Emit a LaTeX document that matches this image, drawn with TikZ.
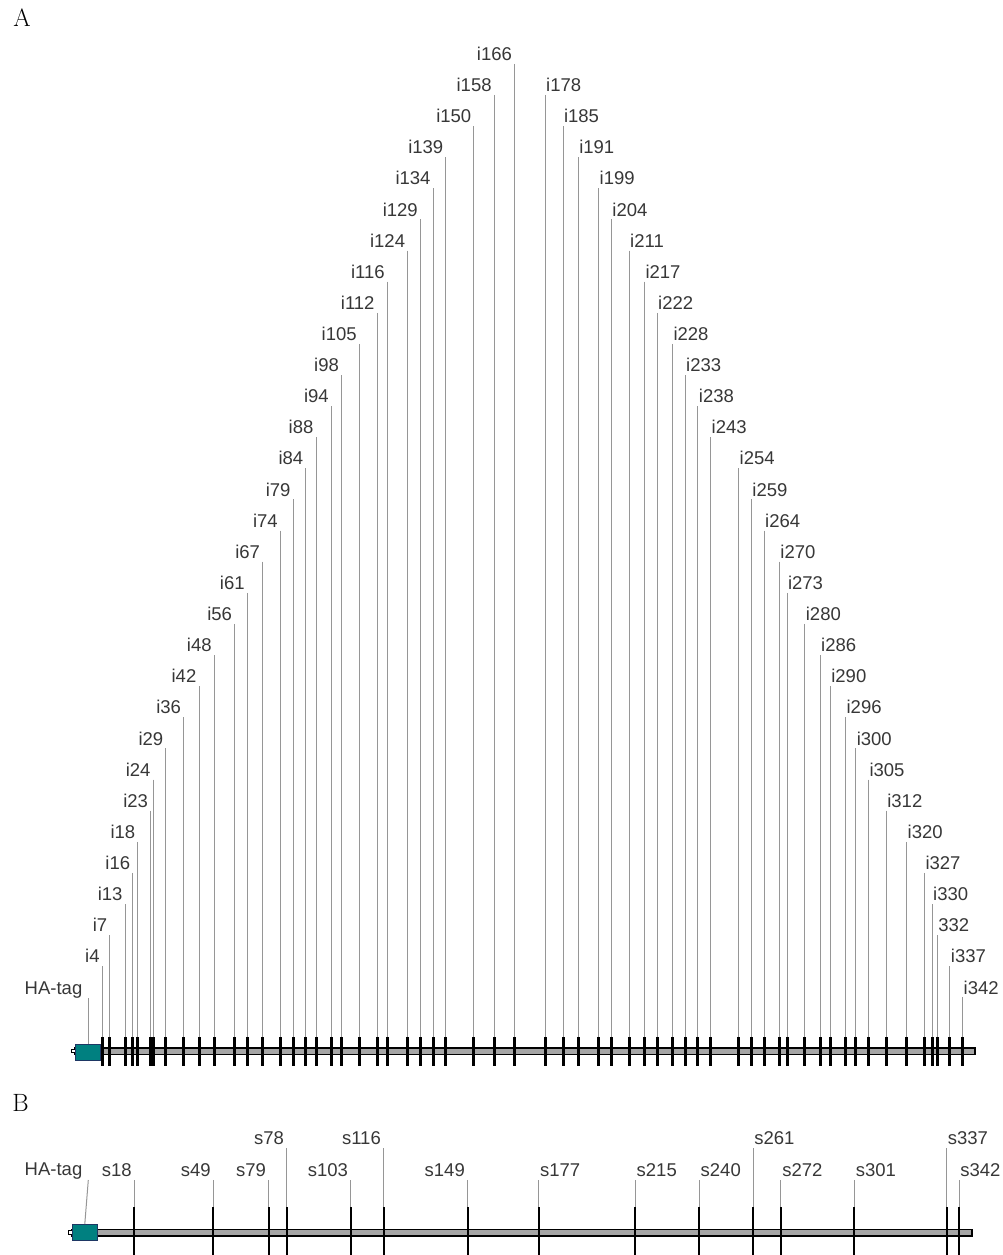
\documentclass[tikz,border=0pt]{standalone}
\usepackage{fontspec}
\newfontfamily\arialf{Liberation Sans}
\definecolor{hateal}{RGB}{0,128,128}
\definecolor{haedge}{RGB}{30,55,100}
\definecolor{leadc}{RGB}{150,150,150}
\definecolor{barc}{RGB}{165,165,165}
\definecolor{labelc}{RGB}{55,55,55}
\begin{document}
\begin{tikzpicture}[x=1pt,y=-1pt,
  lbl/.style={font=\arialf\fontsize{18.5}{18.5}\selectfont, text=labelc, inner sep=0pt},
  lead/.style={draw=leadc, line width=1pt},
  tickA/.style={draw=black, line width=3pt},
  tickB/.style={draw=black, line width=2pt},
  bar/.style={draw=black, fill=barc, line width=1.6pt},
  habox/.style={draw=haedge, fill=hateal, line width=1pt, minimum width=25pt, minimum height=16pt, inner sep=0pt},
  stub/.style={draw=black, fill=white, line width=1pt},
  panel/.style={font=\fontsize{25}{25}\selectfont, inner sep=0pt}]
\useasboundingbox (0,0) rectangle (1003,1255);

% panel letters
\node[panel] (pA) at (22,18) {A};
\node[panel] (pB) at (20.5,1103) {B};

% ---------------- Panel A ----------------
\draw[bar] (75,1047.7) rectangle (975,1054.3);
\draw[stub] (71,1049.2) rectangle (75,1052.8);
\node[habox] (haA) at (87.5,1052) {};
\node[lbl, anchor=base east] (haLA) at (82.5,994.1) {HA-tag};
\coordinate (haTA) at (88.3,998);
\draw[lead] (haTA) -- (haTA |- haA.north);

% left-hand labels
\foreach \n/\k in {166/0,158/1,150/2,139/3,134/4,129/5,124/6,116/7,112/8,105/9,98/10,94/11,88/12,84/13,79/14,74/15,67/16,61/17,56/18,48/19,42/20,36/21,29/22,24/23,23/24,18/25,16/26,13/27,7/28,4/29} {
  \pgfmathsetmacro\xx{92.1+2.5456*\n}
  \pgfmathsetmacro\yt{63.8+31.12*\k}
  \coordinate (tA\n) at (\xx,\yt);
  \coordinate (bA\n) at (\xx,1037);
  \coordinate (eA\n) at (\xx,1066);
  \node[lbl, anchor=base east] (lA\n) at ([xshift=-2.5pt,yshift=3.4pt]tA\n) {i\n};
  \draw[lead] (tA\n) -- (bA\n);
  \draw[tickA] (bA\n) -- (eA\n);
}
% right-hand labels
\foreach \n/\k/\t in {178/1/i178,185/2/i185,191/3/i191,199/4/i199,204/5/i204,211/6/i211,217/7/i217,222/8/i222,228/9/i228,233/10/i233,238/11/i238,243/12/i243,254/13/i254,259/14/i259,264/15/i264,270/16/i270,273/17/i273,280/18/i280,286/19/i286,290/20/i290,296/21/i296,300/22/i300,305/23/i305,312/24/i312,320/25/i320,327/26/i327,330/27/i330,332/28/332,337/29/i337,342/30/i342} {
  \pgfmathsetmacro\xx{92.1+2.5456*\n}
  \pgfmathsetmacro\yt{63.8+31.12*\k}
  \coordinate (tA\n) at (\xx,\yt);
  \coordinate (bA\n) at (\xx,1037);
  \coordinate (eA\n) at (\xx,1066);
  \node[lbl, anchor=base west] (lA\n) at ([xshift=0.8pt,yshift=3.4pt]tA\n) {\t};
  \draw[lead] (tA\n) -- (bA\n);
  \draw[tickA] (bA\n) -- (eA\n);
}

% ---------------- Panel B ----------------
\draw[bar] (72,1229.3) rectangle (972,1236);
\draw[stub] (68.3,1230.8) rectangle (72.3,1234.5);
\node[habox] (haB) at (84.8,1232.5) {};
\node[lbl, anchor=base east] (haLB) at (82.5,1175.9) {HA-tag};
\coordinate (haTB) at (88.3,1180);
\draw[lead] (haTB) -- (haB.north);

\foreach \n/\xx/\yt in {18/134.3/1180,49/213.3/1180,79/268.7/1180,78/286.7/1148.3,103/350.7/1180,116/383.5/1148.3,149/467.5/1180} {
  \coordinate (tB\n) at (\xx,\yt);
  \coordinate (bB\n) at (\xx,1207);
  \coordinate (eB\n) at (\xx,1255);
  \node[lbl, anchor=base east] (lB\n) at ([xshift=-2.5pt,yshift=4.0pt]tB\n) {s\n};
  \draw[lead] (tB\n) -- (bB\n);
  \draw[tickB] (bB\n) -- (eB\n);
}
\foreach \n/\xx/\yt in {177/538.6/1180,215/635.3/1180,240/699.3/1180,261/753.0/1148.3,272/780.9/1180,301/854.4/1180,337/946.5/1148.3,342/959.0/1180} {
  \coordinate (tB\n) at (\xx,\yt);
  \coordinate (bB\n) at (\xx,1207);
  \coordinate (eB\n) at (\xx,1255);
  \node[lbl, anchor=base west] (lB\n) at ([xshift=1.2pt,yshift=4.0pt]tB\n) {s\n};
  \draw[lead] (tB\n) -- (bB\n);
  \draw[tickB] (bB\n) -- (eB\n);
}
\end{tikzpicture}
\end{document}
